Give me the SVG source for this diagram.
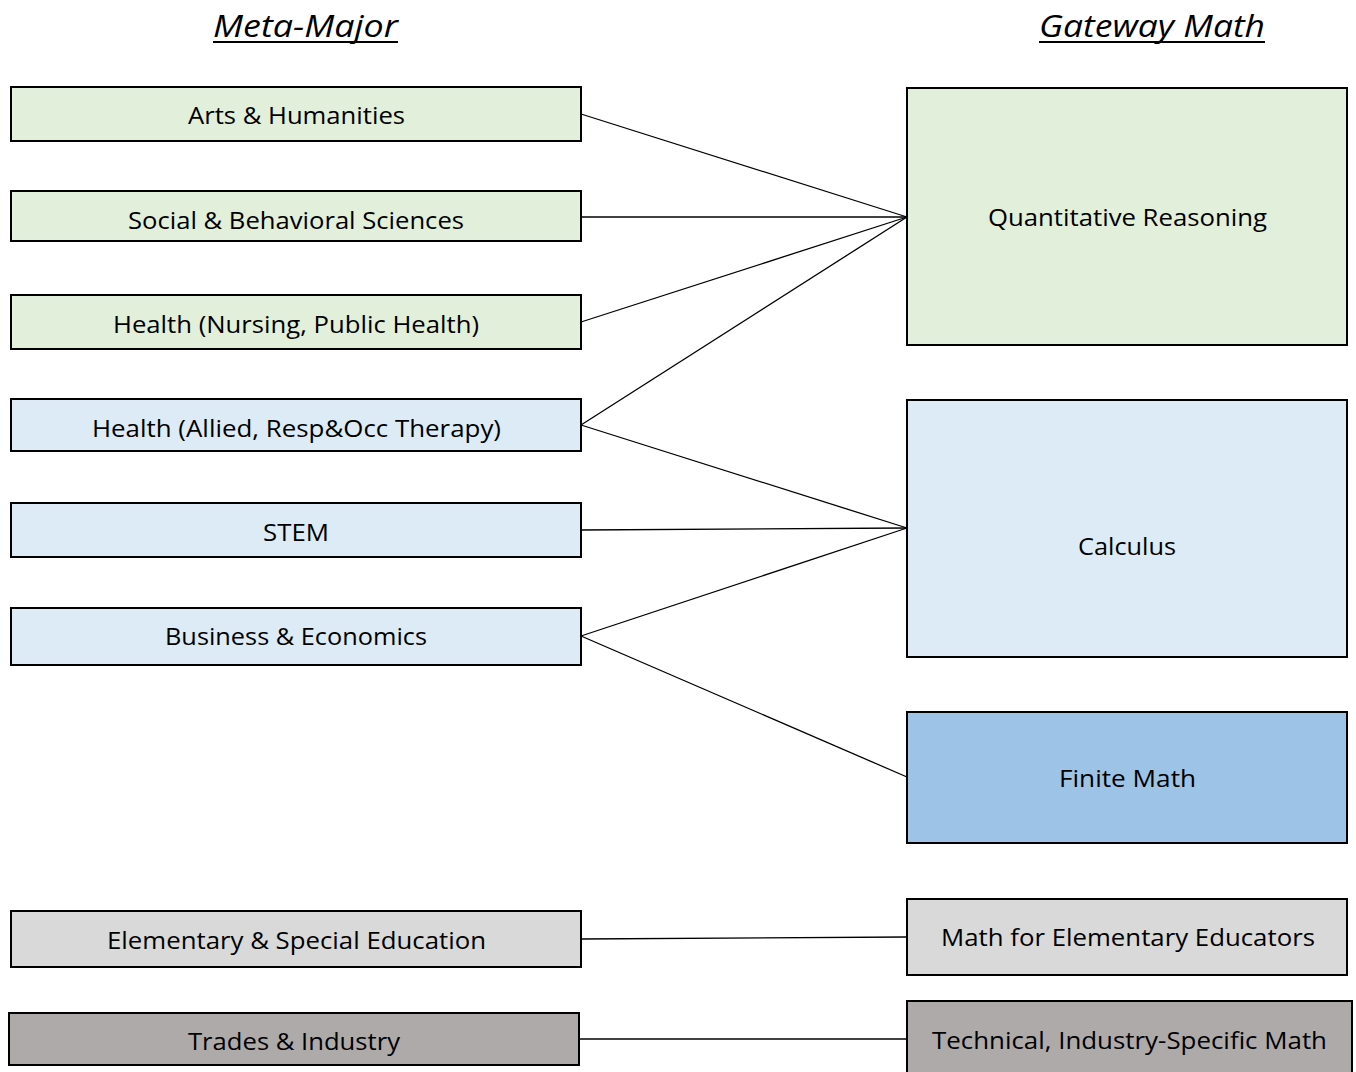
<svg xmlns="http://www.w3.org/2000/svg" width="1356" height="1072" viewBox="0 0 1356 1072">
<style>
.box{stroke:#000;stroke-width:2}
.g{fill:#E2EFDA}.b{fill:#DDEBF7}.fb{fill:#9DC3E6}.lg{fill:#D9D9D9}.dg{fill:#AEAAAA}
text{font-family:"Open Sans","Noto Sans","Liberation Sans",sans-serif;font-size:23px;fill:#000}
.h{font-size:31px;font-style:italic}
#connectors line{stroke:#000;stroke-width:1.3}
</style>
<rect width="1356" height="1072" fill="#fff"/>
<g id="header-meta">
<text class="h" x="213" y="37" textLength="185" lengthAdjust="spacingAndGlyphs">Meta-Major</text>
<line x1="213" y1="42" x2="398" y2="42" stroke="#000" stroke-width="2"/>
</g>
<g id="header-gateway">
<text class="h" x="1039" y="37" textLength="226" lengthAdjust="spacingAndGlyphs">Gateway Math</text>
<line x1="1039" y1="42" x2="1265" y2="42" stroke="#000" stroke-width="2"/>
</g>
<g id="connectors">
<line x1="581" y1="114" x2="907" y2="217"/>
<line x1="581" y1="217" x2="907" y2="217"/>
<line x1="581" y1="322" x2="907" y2="217"/>
<line x1="581" y1="425" x2="907" y2="217"/>
<line x1="581" y1="425" x2="907" y2="528"/>
<line x1="581" y1="530" x2="907" y2="528"/>
<line x1="581" y1="636" x2="907" y2="528"/>
<line x1="581" y1="636" x2="907" y2="777"/>
<line x1="581" y1="939" x2="907" y2="937"/>
<line x1="579" y1="1039" x2="907" y2="1039"/>
</g>
<g id="arts"><rect class="box g" x="11" y="87" width="570" height="54"/><text x="188" y="124" textLength="217" lengthAdjust="spacingAndGlyphs">Arts &amp; Humanities</text></g>
<g id="social"><rect class="box g" x="11" y="191" width="570" height="50"/><text x="128" y="229" textLength="336" lengthAdjust="spacingAndGlyphs">Social &amp; Behavioral Sciences</text></g>
<g id="health-nursing"><rect class="box g" x="11" y="295" width="570" height="54"/><text x="113" y="333" textLength="366" lengthAdjust="spacingAndGlyphs">Health (Nursing, Public Health)</text></g>
<g id="health-allied"><rect class="box b" x="11" y="399" width="570" height="52"/><text x="92" y="437" textLength="409" lengthAdjust="spacingAndGlyphs">Health (Allied, Resp&amp;Occ Therapy)</text></g>
<g id="stem"><rect class="box b" x="11" y="503" width="570" height="54"/><text x="263" y="541" textLength="66" lengthAdjust="spacingAndGlyphs">STEM</text></g>
<g id="business"><rect class="box b" x="11" y="608" width="570" height="57"/><text x="165" y="645" textLength="262" lengthAdjust="spacingAndGlyphs">Business &amp; Economics</text></g>
<g id="elementary"><rect class="box lg" x="11" y="911" width="570" height="56"/><text x="107" y="949" textLength="379" lengthAdjust="spacingAndGlyphs">Elementary &amp; Special Education</text></g>
<g id="trades"><rect class="box dg" x="9" y="1013" width="570" height="52"/><text x="188" y="1050" textLength="212" lengthAdjust="spacingAndGlyphs">Trades &amp; Industry</text></g>
<g id="quantitative"><rect class="box g" x="907" y="88" width="440" height="257"/><text x="988" y="226" textLength="279" lengthAdjust="spacingAndGlyphs">Quantitative Reasoning</text></g>
<g id="calculus"><rect class="box b" x="907" y="400" width="440" height="257"/><text x="1078" y="555" textLength="98" lengthAdjust="spacingAndGlyphs">Calculus</text></g>
<g id="finite"><rect class="box fb" x="907" y="712" width="440" height="131"/><text x="1059" y="787" textLength="137" lengthAdjust="spacingAndGlyphs">Finite Math</text></g>
<g id="math-elem"><rect class="box lg" x="907" y="899" width="440" height="76"/><text x="941" y="946" textLength="374" lengthAdjust="spacingAndGlyphs">Math for Elementary Educators</text></g>
<g id="technical"><rect class="box dg" x="907" y="1001" width="445" height="80"/><text x="932" y="1049" textLength="395" lengthAdjust="spacingAndGlyphs">Technical, Industry-Specific Math</text></g>
</svg>
